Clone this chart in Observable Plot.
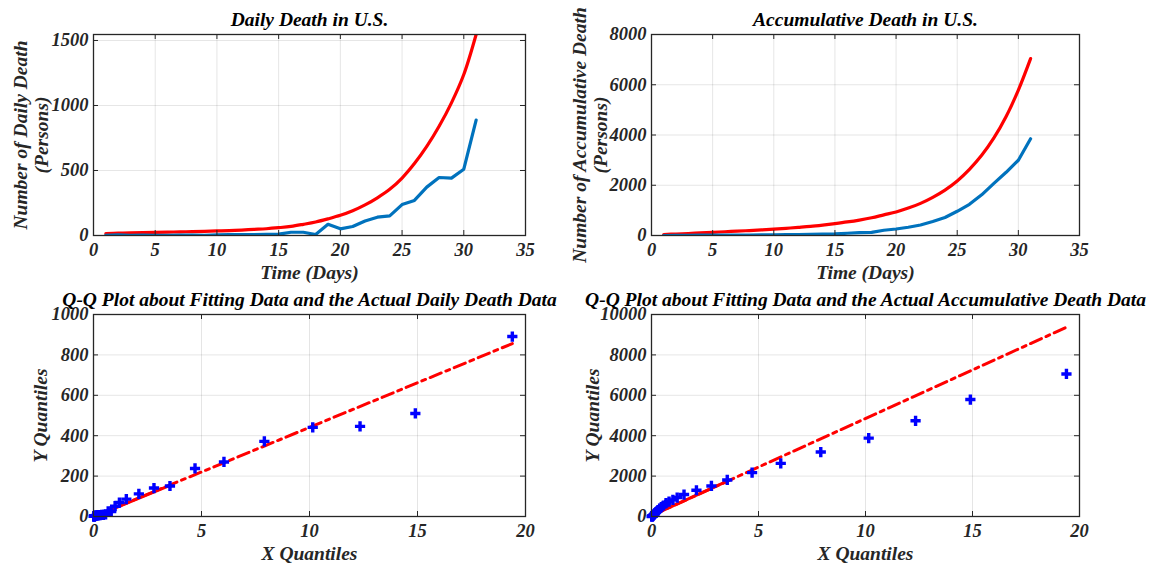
<!DOCTYPE html>
<html><head><meta charset="utf-8">
<script src="https://cdn.jsdelivr.net/npm/d3@7"></script>
<script src="https://cdn.jsdelivr.net/npm/@observablehq/plot@0.6"></script>
<style>
body{margin:0;background:#fff;}
#wrap{position:relative;width:1150px;height:566px;overflow:hidden;background:#fff;}
#wrap svg{position:absolute;overflow:visible;}
</style></head><body><div id="wrap"></div>
<script>
// ---- data ----
const days = [1,2,3,4,5,6,7,8,9,10,11,12,13,14,15,16,17,18,19,20,21,22,23,24,25,26,27,28,29,30,31];
const dailyActual = [1,5,1,4,1,2,3,3,1,5,7,7,6,8,10,25,25,8,86,51,69,112,141,151,238,270,372,446,441,510,888];
const dailyFit = [15,18,20,22,24,26,28,30,32,35,38,42,47,52,60,70,86,104,128,155,190,235,290,355,442,553,685,840,1020,1238,1546];
const cumActual = [1,6,7,11,12,14,17,20,21,26,33,40,46,54,64,89,114,122,208,259,328,420,560,715,964,1241,1620,2075,2515,2995,3850];
const cumFit = [40,60,80,104,126,150,172,196,222,250,285,322,362,415,475,540,615,705,822,938,1090,1280,1520,1809,2171,2632,3191,3882,4737,5789,7040];

const qqX = [0.01,0.02,0.03,0.04,0.05,0.06,0.08,0.10,0.13,0.16,0.20,0.25,0.31,0.38,0.46,0.56,0.68,0.82,1.00,1.20,1.52,2.10,2.80,3.54,4.70,6.04,7.91,10.15,12.34,14.90,19.39];
const qqDailyY = [1,1,1,1,2,3,3,4,5,5,6,7,7,8,8,10,25,25,51,69,86,112,141,151,238,270,372,441,446,510,891];
const qqCumY = [1,4,8,14,22,35,55,80,110,150,200,260,320,390,463,545,661,740,822,938,1086,1299,1513,1809,2171,2632,3191,3882,4737,5789,7056];

const qqDailyLineX = [0.01, 19.39], qqDailyLineY = [0, 856];
const qqDailyQuartX = [0.10, 3.54], qqDailyQuartY = [2, 154];
const qqCumLineX = [0.01, 19.39], qqCumLineY = [48, 9370];
const qqCumQuartX = [0.10, 3.54], qqCumQuartY = [91, 1747];

const timeTicks = [0,5,10,15,20,25,30,35];
const dailyTicks = [0,500,1000,1500];
const cumTicks = [0,2000,4000,6000,8000];
const qqXTicks = [0,5,10,15,20];
const qqDailyTicks = [0,200,400,600,800,1000];
const qqCumTicks = [0,2000,4000,6000,8000,10000];

const titles = ["Daily Death in U.S.", "Accumulative Death in U.S.",
  "Q-Q Plot about Fitting Data and the Actual Daily Death Data",
  "Q-Q Plot about Fitting Data and the Actual Accumulative Death Data"];
const xLabels = ["Time (Days)", "X Quantiles"];
const yLabels = ["Number of Daily Death\n(Persons)", "Number of Accumulative Death\n(Persons)", "Y Quantiles"];

// ---- helpers ----
const RED = "#FF0000", BLUE = "#0072BD", PT = "#0000FF", AX = "#262626";
const FONT = "'Liberation Serif','Times New Roman',serif";
const fmt = d3.format("d");
const series = (xs, ys) => xs.map((x, i) => ({x, y: ys[i]}));
const txt = {fontFamily: FONT, fontWeight: "bold", fontStyle: "italic", fontSize: 19.5};

function panel(o) {
  const innerW = o.width - o.mL - o.mR, innerH = o.height - o.mT - o.mB;
  const svg = Plot.plot({
    width: o.width, height: o.height,
    marginLeft: o.mL, marginRight: o.mR, marginTop: o.mT, marginBottom: o.mB,
    style: {fontFamily: FONT, fontSize: "18.5px", fontWeight: "bold", fontStyle: "italic", background: "transparent", overflow: "visible"},
    x: {domain: o.xDomain, axis: null},
    y: {domain: o.yDomain, axis: null},
    marks: [
      Plot.gridX(o.xTicks, {stroke: "#000", strokeOpacity: 0.1}),
      Plot.gridY(o.yTicks, {stroke: "#000", strokeOpacity: 0.1}),
      ...o.marks,
      Plot.tickX(o.xTicks, {x: d => d, insetTop: innerH - 5, stroke: AX}),
      Plot.tickX(o.xTicks, {x: d => d, insetBottom: innerH - 5, stroke: AX}),
      Plot.tickY(o.yTicks, {y: d => d, insetRight: innerW - 5, stroke: AX}),
      Plot.tickY(o.yTicks, {y: d => d, insetLeft: innerW - 5, stroke: AX}),
      Plot.frame({stroke: AX, strokeWidth: 1.3}),
      Plot.axisX(o.xTicks, {tickSize: 0, tickPadding: 7, tickFormat: fmt, fill: AX, label: null}),
      Plot.axisY(o.yTicks, {tickSize: 0, tickPadding: 5, tickFormat: fmt, fill: AX, label: null}),
      Plot.text([o.title], {...txt, frameAnchor: "top", lineAnchor: "middle", textAnchor: "middle", dy: -15, fill: "#000"}),
      Plot.text([o.xLabel], {...txt, frameAnchor: "bottom", lineAnchor: "middle", textAnchor: "middle", dy: 37, fill: AX}),
      Plot.text([o.yLabel], {...txt, frameAnchor: "left", lineAnchor: "middle", textAnchor: "middle", dx: o.yDx, rotate: -90, lineHeight: 1.1, fill: AX})
    ]
  });
  svg.style.left = o.left + "px";
  svg.style.top = o.top + "px";
  document.getElementById("wrap").appendChild(svg);
}

// ---- panels ----
panel({
  left: 0, top: 0, width: 560, height: 283, mL: 93, mR: 35, mT: 34, mB: 48,
  xDomain: [0, 35], yDomain: [0, 1546], xTicks: timeTicks, yTicks: dailyTicks,
  title: titles[0], xLabel: xLabels[0], yLabel: yLabels[0], yDx: -63,
  marks: [
    Plot.line(series(days, dailyFit), {x: "x", y: "y", stroke: RED, strokeWidth: 3.2, curve: "catmull-rom", clip: true}),
    Plot.line(series(days, dailyActual), {x: "x", y: "y", stroke: BLUE, strokeWidth: 3.2, clip: true})
  ]
});
panel({
  left: 560, top: 0, width: 590, height: 283, mL: 91, mR: 71, mT: 34, mB: 48,
  xDomain: [0, 35], yDomain: [0, 8000], xTicks: timeTicks, yTicks: cumTicks,
  title: titles[1], xLabel: xLabels[0], yLabel: yLabels[1], yDx: -62,
  marks: [
    Plot.line(series(days, cumFit), {x: "x", y: "y", stroke: RED, strokeWidth: 3.2, curve: "catmull-rom", clip: true}),
    Plot.line(series(days, cumActual), {x: "x", y: "y", stroke: BLUE, strokeWidth: 3.2, clip: true})
  ]
});
panel({
  left: 0, top: 283, width: 560, height: 283, mL: 93, mR: 35, mT: 31, mB: 50,
  xDomain: [0, 20], yDomain: [0, 1000], xTicks: qqXTicks, yTicks: qqDailyTicks,
  title: titles[2], xLabel: xLabels[1], yLabel: yLabels[2], yDx: -53,
  marks: [
    Plot.line(series(qqDailyLineX, qqDailyLineY), {x: "x", y: "y", stroke: RED, strokeWidth: 3, strokeDasharray: "12,5,4,5", clip: true}),
    Plot.line(series(qqDailyQuartX, qqDailyQuartY), {x: "x", y: "y", stroke: RED, strokeWidth: 3, clip: true}),
    Plot.dot(series(qqX, qqDailyY), {x: "x", y: "y", symbol: "cross", r: 4.3, fill: PT, stroke: "none"})
  ]
});
panel({
  left: 560, top: 283, width: 590, height: 283, mL: 91, mR: 71, mT: 31, mB: 50,
  xDomain: [0, 20], yDomain: [0, 10000], xTicks: qqXTicks, yTicks: qqCumTicks,
  title: titles[3], xLabel: xLabels[1], yLabel: yLabels[2], yDx: -59,
  marks: [
    Plot.line(series(qqCumLineX, qqCumLineY), {x: "x", y: "y", stroke: RED, strokeWidth: 3, strokeDasharray: "12,5,4,5", clip: true}),
    Plot.line(series(qqCumQuartX, qqCumQuartY), {x: "x", y: "y", stroke: RED, strokeWidth: 3, clip: true}),
    Plot.dot(series(qqX, qqCumY), {x: "x", y: "y", symbol: "cross", r: 4.3, fill: PT, stroke: "none"})
  ]
});
</script>
</body></html>
